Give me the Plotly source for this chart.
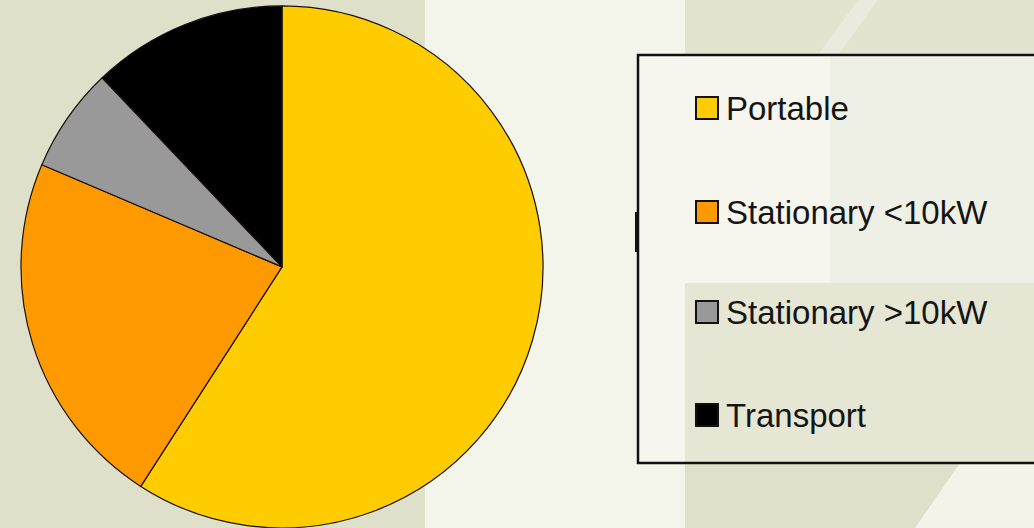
import plotly.graph_objects as go

labels = ["Portable", "Stationary <10kW", "Stationary >10kW", "Transport"]
values = [59.1, 22.3, 6.5, 12.1]
colors = ["#FFCC00", "#FF9900", "#999999", "#000000"]

W, H = 1034, 528

def px(x):
    return x / W

def py(y):
    return 1 - y / H

fig = go.Figure()
fig.add_trace(go.Pie(
    labels=labels,
    values=values,
    sort=False,
    direction="clockwise",
    rotation=0,
    marker=dict(colors=colors, line=dict(color="#1a1010", width=1.2)),
    textinfo="none",
    hoverinfo="label+percent",
    showlegend=False,
    domain=dict(x=[px(282 - 261), px(282 + 261)], y=[0, 0.989]),
))

shapes = []
# background texture (approximation)
shapes.append(dict(type="rect", xref="paper", yref="paper", x0=px(425), x1=px(685), y0=0, y1=1,
                   fillcolor="#f3f4ea", line=dict(width=0), layer="below"))
shapes.append(dict(type="rect", xref="paper", yref="paper", x0=px(685), x1=px(1034), y0=py(60), y1=1,
                   fillcolor="#e3e4d0", line=dict(width=0), layer="below"))
shapes.append(dict(type="path", xref="paper", yref="paper",
                   path=f"M {px(858)} 1 L {px(878)} 1 L {px(838)} {py(55)} L {px(818)} {py(55)} Z",
                   fillcolor="#eaebdc", line=dict(width=0), layer="below"))
shapes.append(dict(type="path", xref="paper", yref="paper",
                   path=f"M {px(960)} {py(463)} L {px(1034)} {py(463)} L {px(1034)} 0 L {px(915)} 0 Z",
                   fillcolor="#f3f3ea", line=dict(width=0), layer="below"))

# legend box
lx0, lx1, ly0, ly1 = 638, 1040, 55, 463
shapes.append(dict(type="rect", xref="paper", yref="paper", x0=px(lx0), x1=px(lx1), y0=py(ly1), y1=py(ly0),
                   fillcolor="#f6f6ee", line=dict(width=0), layer="below"))
shapes.append(dict(type="rect", xref="paper", yref="paper", x0=px(830), x1=px(lx1), y0=py(283), y1=py(ly0),
                   fillcolor="#eff0e5", line=dict(width=0), layer="below"))
shapes.append(dict(type="rect", xref="paper", yref="paper", x0=px(685), x1=px(lx1), y0=py(ly1), y1=py(283),
                   fillcolor="#e5e6d4", line=dict(width=0), layer="below"))
shapes.append(dict(type="rect", xref="paper", yref="paper", x0=px(lx0), x1=px(lx1), y0=py(ly1), y1=py(ly0),
                   fillcolor="rgba(0,0,0,0)", line=dict(color="#111111", width=2.5), layer="above"))
shapes.append(dict(type="rect", xref="paper", yref="paper", x0=px(635), x1=px(639), y0=py(252), y1=py(212),
                   fillcolor="#111111", line=dict(width=0), layer="above"))

annotations = []
item_y = [108, 212, 312, 415]
for lab, col, yc in zip(labels, colors, item_y):
    shapes.append(dict(type="rect", xref="paper", yref="paper",
                       x0=px(696), x1=px(718), y0=py(yc + 11), y1=py(yc - 11),
                       fillcolor=col, line=dict(color="#111111", width=2), layer="above"))
    annotations.append(dict(text=lab, xref="paper", yref="paper", x=px(724), y=py(yc),
                            xanchor="left", yanchor="middle", showarrow=False,
                            font=dict(family="Liberation Sans, Arial, sans-serif", size=33, color="#151515")))

fig.update_layout(
    width=W, height=H,
    margin=dict(l=0, r=0, t=0, b=0),
    paper_bgcolor="#dfe0c9",
    plot_bgcolor="#dfe0c9",
    shapes=shapes,
    annotations=annotations,
    showlegend=False,
)

fig.write_html("out.html", config={"displayModeBar": False},
               post_script="document.body.style.margin='0px';document.body.style.overflow='hidden';")
